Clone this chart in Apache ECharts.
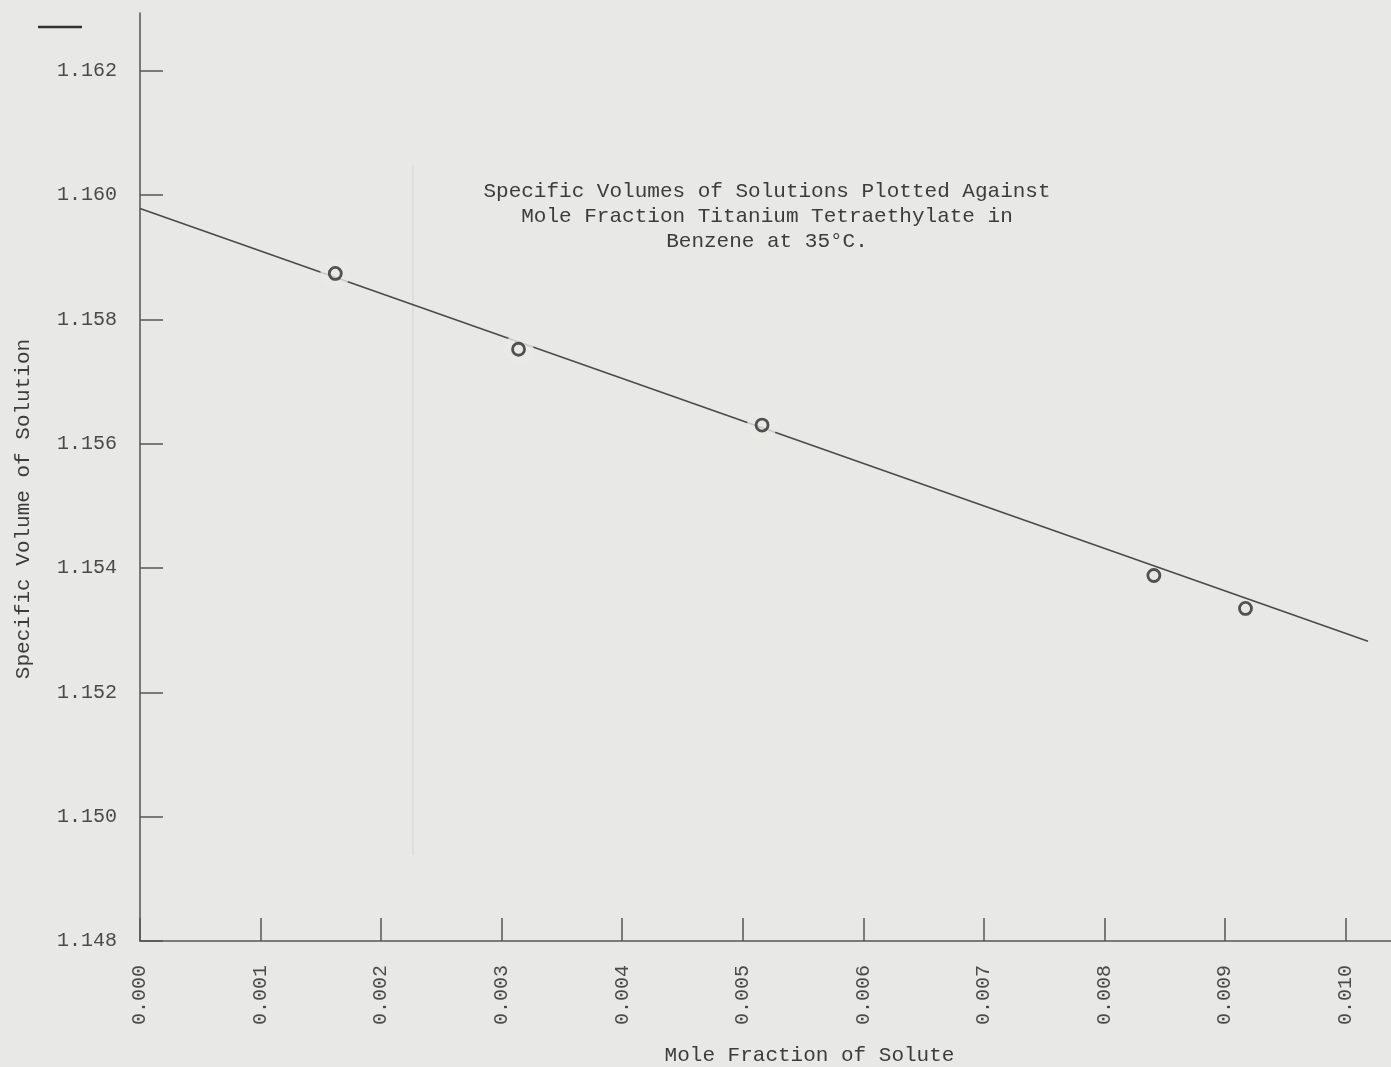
<!DOCTYPE html>
<html>
<head>
<meta charset="utf-8">
<title>Specific Volumes of Solutions</title>
<script src="https://cdn.jsdelivr.net/npm/echarts@6/dist/echarts.min.js"></script>
<style>
  html, body { margin: 0; padding: 0; background: #e8e8e6; }
  #chart { width: 1391px; height: 1067px; }
</style>
</head>
<body>
<div id="chart"></div>
<script>
// Measured points: mole fraction of solute vs. specific volume of solution
const moleFraction = [0.00162, 0.00314, 0.00516, 0.00841, 0.00917];
const specificVolume = [1.15874, 1.15752, 1.15630, 1.15388, 1.15335];

// End points of the fitted straight line
const fitX = [0.0, 0.010186];
const fitY = [1.159784, 1.152822];

// Axis tick values
const xTicks = [0.000, 0.001, 0.002, 0.003, 0.004, 0.005, 0.006, 0.007, 0.008, 0.009, 0.010];
const yTicks = [1.148, 1.150, 1.152, 1.154, 1.156, 1.158, 1.160, 1.162];

// The first three circles sit in small breaks of the fitted line
const brokenAt = [0, 1, 2];

const paper = '#e8e8e6';
const ink = '#3c3c3c';
const font = '"Liberation Mono", "DejaVu Sans Mono", monospace';

const chart = echarts.init(document.getElementById('chart'));

chart.setOption({
  backgroundColor: paper,
  animation: false,
  title: {
    text: 'Specific Volumes of Solutions Plotted Against\nMole Fraction Titanium Tetraethylate in\nBenzene at 35\u00B0C.',
    left: 762,
    top: 174,
    textAlign: 'center',
    textStyle: {
      fontFamily: font,
      fontSize: 21,
      fontWeight: 'normal',
      color: ink,
      lineHeight: 25,
      align: 'center'
    }
  },
  grid: { left: 140, top: 13, right: 0, bottom: 126, containLabel: false, outerBoundsMode: 'none' },
  xAxis: {
    type: 'value',
    min: 0,
    max: 0.010377,
    name: 'Mole Fraction of Solute',
    nameLocation: 'middle',
    nameGap: 104,
    nameTextStyle: { fontFamily: font, fontSize: 21, color: ink, padding: [0, 0, 0, 88] },
    splitLine: { show: false },
    axisLine: { show: true, onZero: false, lineStyle: { color: '#555', width: 1.5 } },
    axisTick: { show: true, inside: true, length: 23, customValues: xTicks, lineStyle: { color: '#555', width: 1.5 } },
    axisLabel: {
      customValues: xTicks,
      rotate: 90,
      margin: 24,
      fontFamily: font,
      fontSize: 20,
      color: '#4a4a4a',
      formatter: v => v.toFixed(3)
    }
  },
  yAxis: {
    type: 'value',
    min: 1.148,
    max: 1.16293,
    name: 'Specific Volume of Solution',
    nameLocation: 'middle',
    nameGap: 106,
    nameRotate: 90,
    nameTextStyle: { fontFamily: font, fontSize: 21, color: ink, padding: [0, 64, 0, 0] },
    splitLine: { show: false },
    axisLine: { show: true, onZero: false, lineStyle: { color: '#555', width: 1.5 } },
    axisTick: { show: true, inside: true, length: 23, customValues: yTicks, lineStyle: { color: '#555', width: 1.5 } },
    axisLabel: {
      customValues: yTicks,
      margin: 23,
      fontFamily: font,
      fontSize: 20,
      color: '#4a4a4a',
      formatter: v => v.toFixed(3)
    }
  },
  series: [
    {
      name: 'fit',
      type: 'line',
      data: fitX.map((x, i) => [x, fitY[i]]),
      showSymbol: false,
      silent: true,
      lineStyle: { color: '#4a4a4a', width: 1.6 },
      z: 2
    },
    {
      name: 'breaks',
      type: 'scatter',
      data: brokenAt.map(i => [moleFraction[i], specificVolume[i]]),
      symbol: 'circle',
      symbolSize: 30,
      itemStyle: { color: paper, borderWidth: 0 },
      silent: true,
      z: 3
    },
    {
      name: 'measured',
      type: 'scatter',
      data: moleFraction.map((x, i) => [x, specificVolume[i]]),
      symbol: 'circle',
      symbolSize: 12,
      itemStyle: { color: 'rgba(0,0,0,0)', borderColor: '#2a2a2a', borderWidth: 2.8 },
      z: 4
    }
  ],
  graphic: [
    {
      type: 'line',
      shape: { x1: 38, y1: 27, x2: 82, y2: 27 },
      style: { stroke: '#333', lineWidth: 2.5 },
      silent: true
    },
    {
      type: 'line',
      shape: { x1: 413, y1: 165, x2: 413, y2: 855 },
      style: { stroke: '#d6d6d4', lineWidth: 1 },
      silent: true
    }
  ]
});
</script>
</body>
</html>
